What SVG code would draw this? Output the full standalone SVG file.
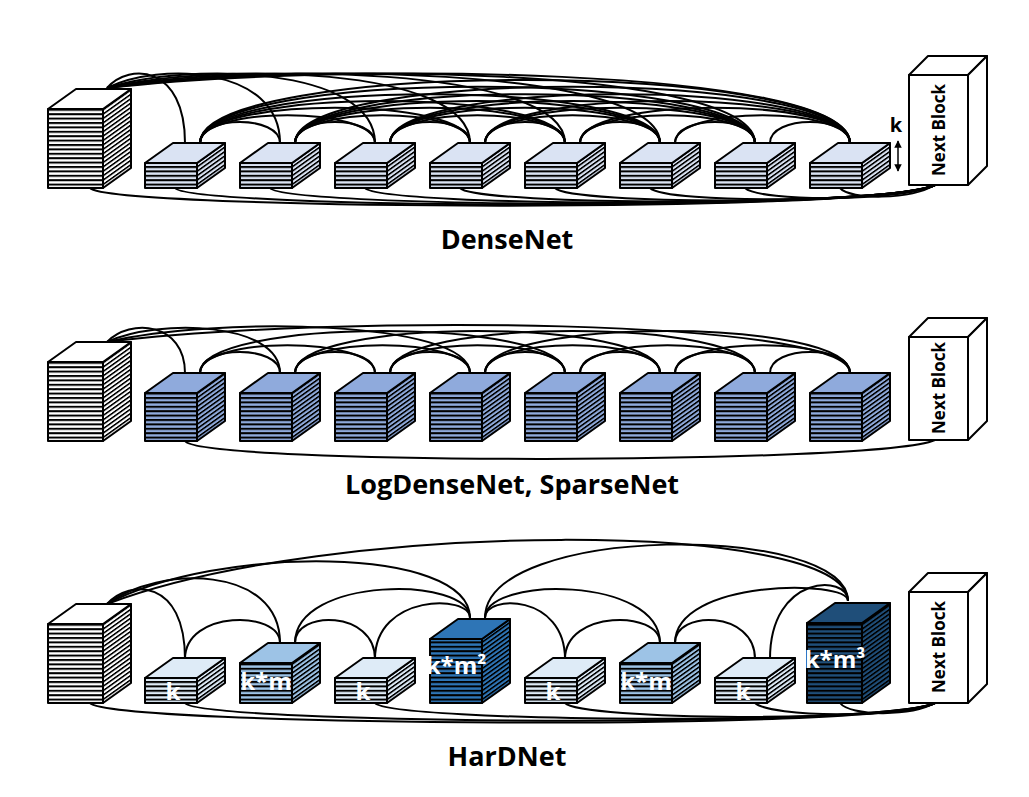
<svg xmlns="http://www.w3.org/2000/svg" xmlns:xlink="http://www.w3.org/1999/xlink" width="1029" height="797" viewBox="0 0 1029 797">
<style>
.ov{stroke:#000;stroke-width:2;stroke-linejoin:round}
.tp{stroke:#000;stroke-width:2;stroke-linejoin:round}
.hs{fill:url(#hs)}
.ss{fill:url(#ss)}
.nb{fill:#fff;stroke:#000;stroke-width:2;stroke-linejoin:round}
.nbt{font-family:"Open Sans",sans-serif;font-weight:bold;font-size:17px;fill:#000}
.ttl{font-family:"Open Sans",sans-serif;font-weight:bold;font-size:27px;fill:#000}
.lbl{font-family:"Open Sans",sans-serif;font-weight:bold;font-size:24px;fill:#fff;text-anchor:middle}
#conn path{fill:none;stroke:#000;stroke-width:2}
</style>
<defs>
<pattern id="hs" width="8" height="4.4" patternUnits="userSpaceOnUse"><rect width="8" height="2" fill="#000"/></pattern>
<pattern id="ss" width="8" height="4.4" patternUnits="userSpaceOnUse" patternTransform="skewY(-35.54)"><rect width="8" height="2" fill="#000"/></pattern>
<marker id="ar" viewBox="0 0 10 10" refX="9" refY="5" markerWidth="5" markerHeight="5" orient="auto-start-reverse"><path d="M0,0 L10,5 L0,10 z" fill="#000"/></marker>
<g id="bA"><polygon points="-52,0 0,0 0,-25 -52,-25"/><polygon points="0,0 28,-20 28,-45 0,-25"/><polygon class="ov hs" points="-52,0 0,0 0,-25 -52,-25"/><polygon class="ov ss" points="0,0 28,-20 28,-45 0,-25"/><polygon class="tp" points="-52,-25 0,-25 28,-45 -24,-45"/></g>
<g id="bB"><polygon points="-55,0 0,0 0,-79 -55,-79"/><polygon points="0,0 28,-20 28,-99 0,-79"/><polygon class="ov hs" points="-55,0 0,0 0,-79 -55,-79"/><polygon class="ov ss" points="0,0 28,-20 28,-99 0,-79"/><polygon class="tp" points="-55,-79 0,-79 28,-99 -27,-99"/></g>
<g id="bC"><polygon points="-52,0 0,0 0,-48 -52,-48"/><polygon points="0,0 28,-20 28,-68 0,-48"/><polygon class="ov hs" points="-52,0 0,0 0,-48 -52,-48"/><polygon class="ov ss" points="0,0 28,-20 28,-68 0,-48"/><polygon class="tp" points="-52,-48 0,-48 28,-68 -24,-68"/></g>
<g id="bD"><polygon points="-52,0 0,0 0,-40 -52,-40"/><polygon points="0,0 28,-20 28,-60 0,-40"/><polygon class="ov hs" points="-52,0 0,0 0,-40 -52,-40"/><polygon class="ov ss" points="0,0 28,-20 28,-60 0,-40"/><polygon class="tp" points="-52,-40 0,-40 28,-60 -24,-60"/></g>
<g id="bE"><polygon points="-52,0 0,0 0,-64 -52,-64"/><polygon points="0,0 28,-20 28,-84 0,-64"/><polygon class="ov hs" points="-52,0 0,0 0,-64 -52,-64"/><polygon class="ov ss" points="0,0 28,-20 28,-84 0,-64"/><polygon class="tp" points="-52,-64 0,-64 28,-84 -24,-84"/></g>
<g id="bF"><polygon points="-55,0 0,0 0,-80 -55,-80"/><polygon points="0,0 28,-20 28,-100 0,-80"/><polygon class="ov hs" points="-55,0 0,0 0,-80 -55,-80"/><polygon class="ov ss" points="0,0 28,-20 28,-100 0,-80"/><polygon class="tp" points="-55,-80 0,-80 28,-100 -27,-100"/></g>
</defs>
<rect width="1029" height="797" fill="#fff"/>
<g id="conn">
<path d="M107 88 C130 62 185 66 185 143"/><path d="M107 88 C159 62 280 66 280 143"/><path d="M107 88 C187 62 375 66 375 143"/><path d="M107 88 C216 62 470 66 470 143"/><path d="M107 88 C244 62 565 66 565 143"/><path d="M107 88 C273 62 660 66 660 143"/><path d="M107 88 C301 62 755 66 755 143"/><path d="M107 88 C330 62 850 66 850 143"/>
<path d="M200 143 C200 115 280 115 280 143"/><path d="M295 143 C295 115 375 115 375 143"/><path d="M390 143 C390 115 470 115 470 143"/><path d="M485 143 C485 115 565 115 565 143"/><path d="M580 143 C580 115 660 115 660 143"/><path d="M675 143 C675 115 755 115 755 143"/><path d="M770 143 C770 115 850 115 850 143"/>
<path d="M200 143 C200 106 375 106 375 143"/><path d="M295 143 C295 106 470 106 470 143"/><path d="M390 143 C390 106 565 106 565 143"/><path d="M485 143 C485 106 660 106 660 143"/><path d="M580 143 C580 106 755 106 755 143"/><path d="M675 143 C675 106 850 106 850 143"/>
<path d="M200 143 C200 96 470 96 470 143"/><path d="M295 143 C295 96 565 96 565 143"/><path d="M390 143 C390 96 660 96 660 143"/><path d="M485 143 C485 96 755 96 755 143"/><path d="M580 143 C580 96 850 96 850 143"/>
<path d="M200 143 C200 87 565 87 565 143"/><path d="M295 143 C295 87 660 87 660 143"/><path d="M390 143 C390 87 755 87 755 143"/><path d="M485 143 C485 87 850 87 850 143"/>
<path d="M200 143 C200 78 660 78 660 143"/><path d="M295 143 C295 78 755 78 755 143"/><path d="M390 143 C390 78 850 78 850 143"/>
<path d="M200 143 C200 68 755 68 755 143"/><path d="M295 143 C295 68 850 68 850 143"/>
<path d="M200 143 C200 59 850 59 850 143"/>
<path d="M90 188 C110 210 880 214 935 185"/><path d="M175 188 C190 209 880 212 935 185"/><path d="M270 188 C285 208 880 211 935 185"/><path d="M365 188 C380 207 885 209 935 185"/><path d="M460 188 C475 206 885 207 935 185"/><path d="M555 188 C570 205 890 205 935 185"/><path d="M650 188 C665 204 895 203 935 185"/><path d="M745 188 C760 202 900 202 935 185"/><path d="M840 188 C850 200 910 200 935 185"/>
<path d="M107 342 C130 318 185 322 185 373"/><path d="M107 342 C159 318 280 322 280 373"/><path d="M107 342 C216 316 470 320 470 373"/><path d="M107 342 C330 314 850 318 850 373"/>
<path d="M200 373 C200 345 280 345 280 373"/><path d="M295 373 C295 345 375 345 375 373"/><path d="M390 373 C390 345 470 345 470 373"/><path d="M485 373 C485 345 565 345 565 373"/><path d="M580 373 C580 345 660 345 660 373"/><path d="M675 373 C675 345 755 345 755 373"/><path d="M770 373 C770 345 850 345 850 373"/>
<path d="M200 373 C200 336 375 336 375 373"/><path d="M295 373 C295 336 470 336 470 373"/><path d="M390 373 C390 336 565 336 565 373"/><path d="M485 373 C485 336 660 336 660 373"/><path d="M580 373 C580 336 755 336 755 373"/><path d="M675 373 C675 336 850 336 850 373"/>
<path d="M200 373 C200 317 565 317 565 373"/><path d="M295 373 C295 317 660 317 660 373"/><path d="M390 373 C390 317 755 317 755 373"/><path d="M485 373 C485 317 850 317 850 373"/>
<path d="M185 441 C200 465 880 465 935 440"/>
<path d="M107 604 C130 579 185 579 185 659"/><path d="M107 604 C159 565 280 565 280 643"/><path d="M107 604 C216 545 470 545 470 618"/><path d="M107 604 C330 519 848 519 848 601"/>
<path d="M185 659 C185 610 280 610 280 643"/><path d="M295 643 C295 610 375 610 375 659"/><path d="M295 643 C295 576 470 576 470 618"/><path d="M375 659 C375 594 470 594 470 618"/>
<path d="M485 618 C485 594 565 594 565 659"/><path d="M485 618 C485 576 660 576 660 643"/><path d="M565 659 C565 610 660 610 660 643"/><path d="M675 643 C675 610 755 610 755 659"/>
<path d="M675 643 C675 579 848 579 848 601"/><path d="M770 659 C770 574 848 574 848 601"/><path d="M485 618 C485 523 848 523 848 601"/>
<path d="M90 703 C110 726 880 732 935 703"/><path d="M185 703 C200 724 880 729 935 703"/><path d="M375 703 C390 722 885 726 935 703"/><path d="M565 703 C580 720 890 723 935 703"/><path d="M755 703 C770 717 900 719 935 703"/><path d="M840 703 C850 716 910 717 935 703"/>
</g>
<g id="dn_in"><use href="#bB" transform="translate(103,188)" fill="#fff"/></g>
<g id="dn_b1"><use href="#bA" transform="translate(197,188)" fill="#dae3f3"/></g>
<g id="dn_b2"><use href="#bA" transform="translate(292,188)" fill="#dae3f3"/></g>
<g id="dn_b3"><use href="#bA" transform="translate(387,188)" fill="#dae3f3"/></g>
<g id="dn_b4"><use href="#bA" transform="translate(482,188)" fill="#dae3f3"/></g>
<g id="dn_b5"><use href="#bA" transform="translate(577,188)" fill="#dae3f3"/></g>
<g id="dn_b6"><use href="#bA" transform="translate(672,188)" fill="#dae3f3"/></g>
<g id="dn_b7"><use href="#bA" transform="translate(767,188)" fill="#dae3f3"/></g>
<g id="dn_b8"><use href="#bA" transform="translate(862,188)" fill="#dae3f3"/></g>
<g id="dn_k"><text x="896" y="132" font-family="Open Sans, sans-serif" font-weight="bold" font-size="20" text-anchor="middle">k</text><line x1="898" y1="141" x2="898" y2="171" stroke="#000" stroke-width="1.5" marker-start="url(#ar)" marker-end="url(#ar)"/></g>
<g id="dn_next"><rect class="nb" x="909" y="75" width="59" height="110"/><polygon class="nb" points="909,75 968,75 987,56 928,56"/><polygon class="nb" points="968,75 987,56 987,166 968,185"/><text class="nbt" transform="translate(945,130) rotate(-90)" text-anchor="middle">Next Block</text></g>
<g id="dn_title"><text class="ttl" x="507" y="249" text-anchor="middle">DenseNet</text></g>
<g id="ld_in"><use href="#bB" transform="translate(103,441)" fill="#fff"/></g>
<g id="ld_b1"><use href="#bC" transform="translate(197,441)" fill="#8faadc"/></g>
<g id="ld_b2"><use href="#bC" transform="translate(292,441)" fill="#8faadc"/></g>
<g id="ld_b3"><use href="#bC" transform="translate(387,441)" fill="#8faadc"/></g>
<g id="ld_b4"><use href="#bC" transform="translate(482,441)" fill="#8faadc"/></g>
<g id="ld_b5"><use href="#bC" transform="translate(577,441)" fill="#8faadc"/></g>
<g id="ld_b6"><use href="#bC" transform="translate(672,441)" fill="#8faadc"/></g>
<g id="ld_b7"><use href="#bC" transform="translate(767,441)" fill="#8faadc"/></g>
<g id="ld_b8"><use href="#bC" transform="translate(862,441)" fill="#8faadc"/></g>
<g id="ld_next"><rect class="nb" x="909" y="337" width="59" height="103"/><polygon class="nb" points="909,337 968,337 987,318 928,318"/><polygon class="nb" points="968,337 987,318 987,421 968,440"/><text class="nbt" transform="translate(945,388) rotate(-90)" text-anchor="middle">Next Block</text></g>
<g id="ld_title"><text class="ttl" x="512" y="494" text-anchor="middle">LogDenseNet, SparseNet</text></g>
<g id="hd_in"><use href="#bB" transform="translate(103,703)" fill="#fff"/></g>
<g id="hd_b1"><use href="#bA" transform="translate(197,703)" fill="#deebf7"/><text class="lbl" x="173" y="700">k</text></g>
<g id="hd_b2"><use href="#bD" transform="translate(292,703)" fill="#9dc3e6"/><text class="lbl" x="266" y="690">k*m</text></g>
<g id="hd_b3"><use href="#bA" transform="translate(387,703)" fill="#deebf7"/><text class="lbl" x="363" y="700">k</text></g>
<g id="hd_b4"><use href="#bE" transform="translate(482,703)" fill="#2e75b6"/><text class="lbl" x="456" y="674">k*m²</text></g>
<g id="hd_b5"><use href="#bA" transform="translate(577,703)" fill="#deebf7"/><text class="lbl" x="553" y="700">k</text></g>
<g id="hd_b6"><use href="#bD" transform="translate(672,703)" fill="#9dc3e6"/><text class="lbl" x="646" y="690">k*m</text></g>
<g id="hd_b7"><use href="#bA" transform="translate(767,703)" fill="#deebf7"/><text class="lbl" x="743" y="700">k</text></g>
<g id="hd_b8"><use href="#bF" transform="translate(862,703)" fill="#1f4e79"/><text class="lbl" x="835" y="668">k*m³</text></g>
<g id="hd_next"><rect class="nb" x="909" y="592" width="59" height="111"/><polygon class="nb" points="909,592 968,592 987,573 928,573"/><polygon class="nb" points="968,592 987,573 987,684 968,703"/><text class="nbt" transform="translate(945,647) rotate(-90)" text-anchor="middle">Next Block</text></g>
<g id="hd_title"><text class="ttl" x="507" y="766" text-anchor="middle">HarDNet</text></g>
</svg>
